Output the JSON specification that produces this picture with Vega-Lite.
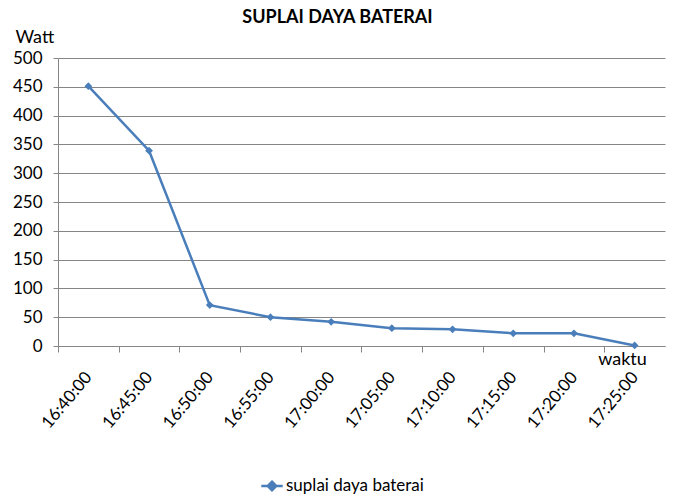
{
  "$schema": "https://vega.github.io/schema/vega-lite/v6.json",
  "width": 607,
  "height": 288,
  "autosize": "none",
  "padding": {"left": 58, "top": 58, "right": 8, "bottom": 151},
  "background": "white",
  "title": {
    "text": "SUPLAI DAYA BATERAI",
    "font": "Lato",
    "fontSize": 18,
    "fontWeight": "bold",
    "color": "#000000",
    "anchor": "middle",
    "dx": -24,
    "offset": 1
  },
  "data": {
    "values": [
      {"waktu": "16:40:00", "watt": 451, "series": "suplai daya baterai"},
      {"waktu": "16:45:00", "watt": 339, "series": "suplai daya baterai"},
      {"waktu": "16:50:00", "watt": 71, "series": "suplai daya baterai"},
      {"waktu": "16:55:00", "watt": 50, "series": "suplai daya baterai"},
      {"waktu": "17:00:00", "watt": 42, "series": "suplai daya baterai"},
      {"waktu": "17:05:00", "watt": 31, "series": "suplai daya baterai"},
      {"waktu": "17:10:00", "watt": 29, "series": "suplai daya baterai"},
      {"waktu": "17:15:00", "watt": 22, "series": "suplai daya baterai"},
      {"waktu": "17:20:00", "watt": 22, "series": "suplai daya baterai"},
      {"waktu": "17:25:00", "watt": 1, "series": "suplai daya baterai"}
    ]
  },
  "mark": {
    "type": "line",
    "strokeWidth": 2.5,
    "point": {"shape": "diamond", "size": 60, "filled": true}
  },
  "encoding": {
    "x": {
      "field": "waktu",
      "type": "ordinal",
      "sort": null,
      "scale": {"type": "point", "padding": 0.5},
      "axis": {
        "title": "waktu",
        "titleFont": "Lato",
        "titleFontSize": 18,
        "titleFontWeight": "normal",
        "titleColor": "#000000",
        "titleAlign": "center",
        "titleBaseline": "alphabetic",
        "titleX": 564,
        "titleY": 18,
        "labelAngle": -50,
        "labelFont": "Lato",
        "labelFontSize": 17,
        "labelColor": "#000000",
        "labelPadding": 22,
        "tickOffset": -30.35,
        "labelOffset": 30.35,
        "tickSize": 6,
        "tickColor": "#868686",
        "domainColor": "#868686",
        "grid": false
      }
    },
    "y": {
      "field": "watt",
      "type": "quantitative",
      "scale": {"domain": [0, 500]},
      "axis": {
        "title": "Watt",
        "titleFont": "Lato",
        "titleFontSize": 18,
        "titleFontWeight": "normal",
        "titleColor": "#000000",
        "titleAngle": 0,
        "titleAlign": "left",
        "titleBaseline": "alphabetic",
        "titleX": -43,
        "titleY": -16,
        "values": [0, 50, 100, 150, 200, 250, 300, 350, 400, 450, 500],
        "labelFont": "Lato",
        "labelFontSize": 17,
        "labelColor": "#000000",
        "labelPadding": 11,
        "tickSize": 5,
        "tickColor": "#868686",
        "domainColor": "#868686",
        "gridColor": "#868686",
        "gridOpacity": 1
      }
    },
    "color": {
      "field": "series",
      "type": "nominal",
      "scale": {"range": ["#4a7ebb"]},
      "legend": {
        "title": null,
        "orient": "none",
        "legendX": 202,
        "legendY": 416,
        "symbolType": "M-1,0H1M0,-0.4L0.4,0L0,0.4L-0.4,0Z",
        "symbolSize": 460,
        "symbolStrokeWidth": 2.5,
        "symbolFillColor": "#4a7ebb",
        "labelFont": "Lato",
        "labelFontSize": 17,
        "labelColor": "#000000",
        "labelOffset": 2
      }
    }
  },
  "config": {
    "view": {"stroke": null}
  }
}
